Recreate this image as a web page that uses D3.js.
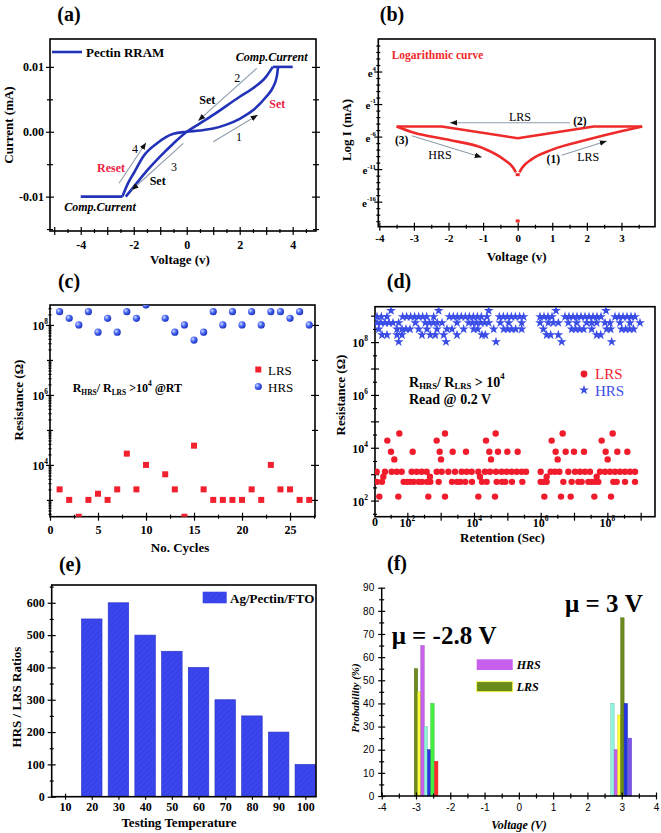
<!DOCTYPE html>
<html><head><meta charset="utf-8">
<script src="https://cdn.jsdelivr.net/npm/d3@7/dist/d3.min.js"></script>
<style>html,body{margin:0;padding:0;background:#fff;}svg{display:block;}</style>
</head><body>
<svg id="fig" width="661" height="833"></svg>
<script>
// ================= DATA =================
// (a) I-V hysteresis loop (Voltage V, Current mA)
const aCompNegV=[-4,-2.43];
const aCompPosV=[3.25,4];
const aLoopBV=[-2.43,-2.2,-2.0,-1.64,-1.13,-0.5,0,0.5,1.0,1.5,2.0,2.5,3.0,3.25,3.4,3.45];
const aLoopBI=[-0.01,-0.0078,-0.0064,-0.0038,-0.0018,-0.0003,0,0.0002,0.0005,0.0011,0.002,0.0033,0.0054,0.0068,0.0085,0.01];
const aLoopAV=[-2.3,-2.0,-1.5,-1.0,-0.5,0,0.5,1.0,2.0,2.5,3.0,3.25];
const aLoopAI=[-0.01,-0.0085,-0.006,-0.0038,-0.0018,0,0.0013,0.0026,0.0054,0.0067,0.0085,0.01];
const aXTicks=[-4,-2,0,2,4];
const aYTicks=[-0.01,0,0.01];
// (b) log curve (Voltage, ln I)
const bUpperV=[-3.5,-2.2,0,2.2,3.6];
const bUpperLn=[-4.46,-4.46,-6.25,-4.46,-4.46];
const bLeftV=[-3.5,-3.02,-2.0,-1.0,-0.41,-0.12,-0.05];
const bLeftLn=[-4.46,-5.38,-6.5,-7.78,-9.48,-10.86,-11.5];
const bRightV=[0.05,0.12,0.4,1.0,2.0,2.96,3.6];
const bRightLn=[-11.5,-10.86,-9.5,-8.0,-6.5,-5.23,-4.46];
const bDotV=[0,0];
const bDotLn=[-11.85,-18.97];
const bXTicks=[-4,-3,-2,-1,0,1,2,3];
const bYTicks=[4,-1,-6,-11,-16];
// (c) endurance
const cCycles=[1,2,3,4,5,6,7,8,9,10,11,12,13,14,15,16,17,18,19,20,21,22,23,24,25,26,27];
const cHRS=[2.4e8,1.55e8,1e8,2.4e8,6.2e7,1.55e8,6.2e7,2.4e8,1.55e8,3.7e8,null,1.55e8,6.2e7,1e8,3.7e7,6.2e7,2.4e8,1e8,2.4e8,1e8,2.4e8,1e8,2.4e8,2.4e8,1.55e8,2.4e8,1e8];
const cLRS=[2000,1000,330,1000,1500,1000,2000,21000,2000,10000,null,5400,2000,330,35500,2000,1000,1000,1000,1000,2000,1000,10000,2000,2000,1000,1000];
const cXTicks=[0,5,10,15,20,25];
const cYTicks=[4,6,8];
// (d) retention: log10(R) levels and log10(t) positions
const dHrsLevels=[9.19,8.96,8.73,8.49,8.27,8.01];
const dHrsTimes=[
 [1.51,2.94,4.44,6.46,7.96],
 [1.09,1.22,1.39,1.86,1.98,2.10,2.22,2.34,2.46,2.58,2.79,3.26,3.38,3.50,3.62,3.74,3.86,3.98,4.10,4.22,4.39,4.76,4.88,5.00,5.12,5.24,5.37,5.49,5.98,6.10,6.22,6.34,6.73,6.85,6.97,7.09,7.21,7.33,7.45,7.57,7.69,7.81,8.23,8.35,8.47,8.59,8.71,8.83],
 [1.09,1.21,1.33,1.45,1.57,1.74,2.24,2.54,2.66,2.78,2.90,3.04,3.49,3.84,3.96,4.08,4.20,4.32,4.44,4.79,5.04,5.43,5.98,6.23,6.38,6.53,6.83,7.08,7.38,7.53,7.68,7.93,8.08,8.38,8.68,8.98],
 [1.14,1.69,1.84,1.96,2.08,2.34,2.59,2.89,3.19,3.34,3.69,3.99,4.11,4.59,4.89,5.01,5.13,5.25,5.43,6.08,6.93,7.05,7.17,7.29,7.53,7.98,8.10,8.43,8.55,8.67,8.79],
 [1.24,1.39,1.69,1.84,2.44,2.69,2.84,3.09,3.49,4.24,4.34,6.18,6.30,6.53,7.68,7.80],
 [1.74,3.16,4.66,6.63,8.13]
];
const dLrsLevels=[4.54,4.27,3.85,3.56,3.09,2.90,2.71,2.15];
const dLrsTimes=[
 [1.76,3.13,4.65,6.66,8.16],
 [1.40,2.88,4.36,6.33,7.83],
 [1.51,2.16,2.97,3.36,3.76,4.46,4.72,5.00,5.31,6.45,6.75,7.00,7.30,7.95,8.30,8.60],
 [1.61,3.01,4.51,6.51,8.01],
 [1.08,1.33,1.53,1.68,1.83,2.13,2.28,2.43,2.58,2.88,3.03,3.23,3.43,3.63,3.78,3.93,4.13,4.33,4.48,4.66,4.83,4.98,5.13,5.28,5.43,5.56,6.00,6.30,6.43,6.56,6.83,7.03,7.18,7.33,7.48,7.78,7.93,8.08,8.23,8.38,8.53,8.68,8.83],
 [1.28,2.68,4.18,6.18,7.68],
 [1.09,1.24,1.89,1.99,2.09,2.19,2.34,2.44,2.59,2.69,2.94,3.34,3.49,3.59,3.74,3.94,4.24,4.38,4.68,4.84,4.94,5.14,5.45,6.00,6.08,6.18,6.68,6.93,7.13,7.23,7.43,7.53,7.63,7.73,8.18,8.28,8.53,8.83],
 [1.16,1.73,2.63,3.13,4.13,4.63,6.11,6.61,6.90,7.61,8.11]
];
const dXTicks=[2,4,6,8];
const dYTicks=[2,4,6,8];
// (e) ratio vs temperature
const eTemps=[10,20,30,40,50,60,70,80,90,100];
const eRatios=[0,550,600,500,450,400,300,250,200,100];
const eYTicks=[0,100,200,300,400,500,600];
// (f) set/reset voltage distribution
const fVolts=[-3.0,-2.9,-2.81,-2.71,-2.61,-2.52,-2.41,2.73,2.83,2.93,3.02,3.12,3.24];
const fProbs=[55,45,65,30,20,40,15,40,20,35,77,40,25];
const fColors=["#6b8a1c","#ffff3a","#c860ee","#90f4de","#2434e0","#44ee44","#ff2a2a","#90f4de","#c860ee","#ffff3a","#6b8a1c","#2434e0","#7a52ee"];
const fXTicks=[-4,-3,-2,-1,0,1,2,3,4];
const fYTicks=[0,10,20,30,40,50,60,70,80,90];

// ================= HELPERS =================
const SERIF='"Liberation Serif","Times New Roman",serif';
const SANS='"Liberation Sans",Arial,sans-serif';
const hy=f=>(v=>f(v).replace("\u2212","-"));
const svg=d3.select("#fig");
svg.append("rect").attr("width",661).attr("height",833).attr("fill","#fff");
const defs=svg.append("defs");
defs.append("marker").attr("id","ah").attr("viewBox","0 0 10 10").attr("refX",10).attr("refY",5)
  .attr("markerWidth",7).attr("markerHeight",7).attr("markerUnits","userSpaceOnUse").attr("orient","auto")
  .append("path").attr("d","M0,1 L10,5 L0,9 Z").attr("fill","#111");
const rg=defs.append("radialGradient").attr("id","sph").attr("cx","35%").attr("cy","35%").attr("r","65%");
rg.append("stop").attr("offset","0%").attr("stop-color","#d0dcff");
rg.append("stop").attr("offset","50%").attr("stop-color","#4a68f4");
rg.append("stop").attr("offset","100%").attr("stop-color","#1e34c4");
const pat=defs.append("pattern").attr("id","hatch").attr("patternUnits","userSpaceOnUse").attr("width",4).attr("height",4).attr("patternTransform","rotate(45)");
pat.append("rect").attr("width",4).attr("height",4).attr("fill","#3b46f0");
pat.append("line").attr("x1",0).attr("y1",0).attr("x2",0).attr("y2",4).attr("stroke","#2f39d0").attr("stroke-width",1.2);

function clip(id,x0,x1,y0,y1){defs.append("clipPath").attr("id",id).append("rect").attr("x",x0).attr("y",y0).attr("width",x1-x0).attr("height",y1-y0);}
function frame(x0,x1,y0,y1){svg.append("rect").attr("x",x0).attr("y",y0).attr("width",x1-x0).attr("height",y1-y0).attr("fill","none").attr("stroke","#000").attr("stroke-width",1.6);}
function txt(x,y,s,o={}){
  return svg.append("text").attr("x",x).attr("y",y).attr("text-anchor",o.anchor||"start")
   .attr("dominant-baseline",o.base||"central").attr("font-family",o.family||SERIF)
   .attr("font-size",o.size||12).attr("font-weight",o.weight||"bold").attr("font-style",o.style||"normal")
   .attr("fill",o.fill||"#000").text(s);
}
function rich(x,y,parts,o={}){
  const size=o.size||12; const t=txt(x,y,"",o); let cur=0;
  parts.forEach(p=>{
    const off=p.sub?size*0.32:p.sup?-size*0.42:0;
    t.append("tspan").attr("dy",off-cur).attr("font-size",(p.sub||p.sup)?size*0.62:size).text(p.t);
    cur=off;
  });
  return t;
}
function vlabel(x,y,s,o={}){return txt(0,0,s,Object.assign({anchor:"middle"},o)).attr("transform",`translate(${x},${y}) rotate(-90)`);}
function ticks(kind,scale,vals,pos,len,fmt,pad,fs,family,weight){
  const gen=kind==="bottom"?d3.axisBottom(scale):kind==="left"?d3.axisLeft(scale):kind==="right"?d3.axisRight(scale):d3.axisTop(scale);
  gen.tickValues(vals).tickSize(len).tickPadding(pad||3).tickFormat(fmt?hy(fmt):(()=>""));
  const g=svg.append("g").attr("transform",(kind==="bottom"||kind==="top")?`translate(0,${pos})`:`translate(${pos},0)`).call(gen);
  g.select(".domain").remove();
  g.selectAll(".tick line").attr("stroke","#000").attr("stroke-width",1.2);
  if(kind==="bottom")g.selectAll(".tick line").attr("y1",-len);
  if(kind==="top")g.selectAll(".tick line").attr("y1",len);
  if(kind==="left")g.selectAll(".tick line").attr("x1",len);
  if(kind==="right")g.selectAll(".tick line").attr("x1",-len);
  g.attr("font-family",family||SERIF).attr("font-size",fs||12).attr("font-weight",weight||"bold");
  g.selectAll("text").attr("fill","#000");
  return g;
}
function arrow(x1,y1,x2,y2){svg.append("line").attr("x1",x1).attr("y1",y1).attr("x2",x2).attr("y2",y2).attr("stroke","#8d9cab").attr("stroke-width",1.1).attr("marker-end","url(#ah)");}
const zip=(a,b)=>a.map((v,i)=>[v,b[i]]);

// ================= PANEL (a) =================
{
const x=d3.scaleLinear([-5.16,4.88],[50,316]);
const y=d3.scaleLinear([-0.0153,0.0143],[231,39]);
ticks("bottom",x,aXTicks,231,4,d3.format("d"),5,12);
ticks("bottom",x,[-5,-3,-1,1,3],231,4);
ticks("bottom",x,d3.range(-4.5,4.6,1),231,2);
ticks("left",y,aYTicks,50,4,d3.format(".2f"),2,12);
ticks("left",y,[-0.015,-0.005,0.005],50,3);
ticks("right",y,aYTicks,316,4);
ticks("right",y,[-0.015,-0.005,0.005],316,3);
frame(50,316,39,231);
const line=d3.line().x(d=>x(d[0])).y(d=>y(d[1]));
const col="#2233b8";
const g=svg.append("g").attr("fill","none").attr("stroke",col).attr("stroke-width",2.6);
g.append("path").attr("d",line(aCompNegV.map(v=>[v,-0.01])));
g.append("path").attr("d",line(aCompPosV.map(v=>[v,0.01])));
g.append("path").attr("d",line.curve(d3.curveMonotoneX)(zip(aLoopBV,aLoopBI)));
g.append("path").attr("d",line.curve(d3.curveMonotoneX)(zip(aLoopAV,aLoopAI)));
svg.append("line").attr("x1",52).attr("x2",82).attr("y1",52).attr("y2",52).attr("stroke",col).attr("stroke-width",2.6);
txt(86,52,"Pectin RRAM",{size:13});
txt(271.7,57.3,"Comp.Current",{anchor:"middle",size:12,style:"italic"});
txt(100,207.3,"Comp.Current",{anchor:"middle",size:12,style:"italic"});
arrow(256.7,68.3,198.3,120.7);
arrow(213.3,141.7,257.7,115);
arrow(119,183.3,146,142.7);
arrow(183.3,143.3,131.7,190);
txt(237.3,78.3,"2",{anchor:"middle",size:12,weight:"normal"});
txt(207.3,100,"Set",{anchor:"middle",size:12});
txt(277.3,104.3,"Set",{anchor:"middle",size:12,fill:"#ee2244"});
txt(239,137.3,"1",{anchor:"middle",size:12,weight:"normal"});
txt(135,148.7,"4",{anchor:"middle",size:12,weight:"normal"});
txt(111,167.7,"Reset",{anchor:"middle",size:12,fill:"#ee2244"});
txt(174,166.7,"3",{anchor:"middle",size:12,weight:"normal"});
txt(157.7,181,"Set",{anchor:"middle",size:12});
vlabel(8,125,"Current (mA)",{size:13});
txt(180,259,"Voltage (v)",{anchor:"middle",size:13});
txt(69,14,"(a)",{anchor:"middle",size:20});
}
// ================= PANEL (b) =================
{
const x=d3.scaleLinear([-4.03,3.97],[378.3,655]);
const y=d3.scaleLinear([-19.85,9.0],[226.7,39]);
ticks("bottom",x,bXTicks,226.7,4,d3.format("d"),4,11);
ticks("bottom",x,d3.range(-3.5,3.6,1),226.7,2);
ticks("left",y,bYTicks,378.3,4);
ticks("left",y,d3.range(-19,9,1).filter(v=>!bYTicks.includes(v)),378.3,2);
frame(378.3,655,39,226.7);
bYTicks.forEach(v=>rich(376,y(v)+1,[{t:"e"},{t:String(v),sup:true}],{anchor:"end",size:11}));
const line=d3.line().x(d=>x(d[0])).y(d=>y(d[1]));
const col="#ee2a2a";
const g=svg.append("g").attr("fill","none").attr("stroke",col).attr("stroke-width",2.6).attr("stroke-linejoin","round");
g.append("path").attr("d",line(zip(bUpperV,bUpperLn)));
g.append("path").attr("d",line.curve(d3.curveMonotoneX)(zip(bLeftV,bLeftLn)));
g.append("path").attr("d",line.curve(d3.curveMonotoneX)(zip(bRightV,bRightLn)));
zip(bDotV,bDotLn).forEach(d=>svg.append("rect").attr("x",x(d[0])-2).attr("y",y(d[1])-1.5).attr("width",4).attr("height",3).attr("fill",col));
txt(391.7,55,"Logarithmic curve",{size:11.5,fill:"#ee2a2a"});
arrow(570,122.7,450,122.7);
txt(520,116.7,"LRS",{anchor:"middle",size:12,weight:"normal"});
txt(580,120.7,"(2)",{anchor:"middle",size:11.5});
txt(401.7,140,"(3)",{anchor:"middle",size:11.5});
arrow(411.7,135.7,481.7,157.3);
txt(440,155.3,"HRS",{anchor:"middle",size:12,weight:"normal"});
txt(553.3,159,"(1)",{anchor:"middle",size:11.5});
arrow(561.7,155.3,606.7,141);
txt(588.3,157.3,"LRS",{anchor:"middle",size:12,weight:"normal"});
vlabel(346.7,130,"Log I (mA)",{size:13});
txt(516.7,256,"Voltage (v)",{anchor:"middle",size:13});
txt(392,14,"(b)",{anchor:"middle",size:20});
}
// ================= PANEL (c) =================
{
const x=d3.scaleLinear([0,27.6],[50,315]);
const y=d3.scaleLog([10**2.52,10**8.57],[516.7,305]);
clip("clipC",50,315,305,516.7);
ticks("bottom",x,cXTicks,516.7,4,d3.format("d"),5,12);
ticks("bottom",x,[2.5,7.5,12.5,17.5,22.5,27.5],516.7,2);
const minors=[];for(let e=2;e<=8;e++)for(let m=2;m<=9;m++){const v=m*10**e;if(v>10**2.52&&v<10**8.57)minors.push(v);}
ticks("left",y,cYTicks.map(e=>10**e),50,4);
ticks("left",y,[1e3,1e5,1e7],50,3);
ticks("left",y,minors,50,1.5);
ticks("right",y,cYTicks.map(e=>10**e),315,4);
ticks("right",y,[1e3,1e5,1e7],315,3);
frame(50,315,305,516.7);
cYTicks.forEach(e=>rich(48,y(10**e)+1,[{t:"10"},{t:String(e),sup:true}],{anchor:"end",size:12}));
const g=svg.append("g").attr("clip-path","url(#clipC)");
cCycles.forEach((c,i)=>{
  if(cHRS[i]!=null)g.append("circle").attr("cx",x(c)).attr("cy",y(cHRS[i])).attr("r",3.6).attr("fill","url(#sph)");
  if(cLRS[i]!=null)g.append("rect").attr("x",x(c)-3).attr("y",y(cLRS[i])-3).attr("width",6).attr("height",6).attr("fill","#f0202e");
});
svg.append("rect").attr("x",255.3).attr("y",366.5).attr("width",6).attr("height",6).attr("fill","#f0202e");
svg.append("circle").attr("cx",258.3).attr("cy",386.5).attr("r",3.6).attr("fill","url(#sph)");
txt(268,370,"LRS",{size:13,weight:"normal"});
txt(268,387,"HRS",{size:13,weight:"normal"});
rich(72.7,388.3,[{t:"R"},{t:"HRS",sub:true},{t:"/ R"},{t:"LRS",sub:true},{t:" >10"},{t:"4",sup:true},{t:" @RT"}],{size:12});
vlabel(18,400,"Resistance (Ω)",{size:13});
txt(180,547,"No. Cycles",{anchor:"middle",size:13});
txt(69,281,"(c)",{anchor:"middle",size:20});
}
// ================= PANEL (d) =================
{
const x=d3.scaleLog([10**1.03,10**9.43],[375,655]);
const y=d3.scaleLog([10**1.39,10**9.34],[516.7,306.7]);
clip("clipD",375,655,306.7,516.7);
ticks("bottom",x,d3.range(2,10).map(e=>10**e),516.7,4);
ticks("bottom",x,d3.range(1.5,9.5,1).map(e=>10**e),516.7,2);
ticks("left",y,d3.range(2,10).map(e=>10**e),375,4);
ticks("left",y,d3.range(1.5,9.5,1).map(e=>10**e),375,2);
frame(375,655,306.7,516.7);
txt(375,522,"0",{anchor:"middle",size:12});
dXTicks.forEach(e=>rich(x(10**e),523,[{t:"10"},{t:String(e),sup:true}],{anchor:"middle",size:12}));
dYTicks.forEach(e=>rich(368,y(10**e)+1,[{t:"10"},{t:String(e),sup:true}],{anchor:"end",size:12}));
const g=svg.append("g").attr("clip-path","url(#clipD)");
dLrsLevels.forEach((lv,i)=>dLrsTimes[i].forEach(t=>g.append("circle").attr("cx",x(10**t)).attr("cy",y(10**lv)).attr("r",3.2).attr("fill","#f01c2c")));
const star=d3.symbol(d3.symbolStar).size(30);
dHrsLevels.forEach((lv,i)=>dHrsTimes[i].forEach(t=>g.append("path").attr("d",star()).attr("transform",`translate(${x(10**t)},${y(10**lv)})`).attr("fill","#3a4ee6")));
svg.append("circle").attr("cx",584).attr("cy",374).attr("r",3.4).attr("fill","#f01c2c");
svg.append("path").attr("d",star()).attr("transform","translate(584,390)").attr("fill","#3a4ee6");
txt(595,374,"LRS",{size:15,weight:"normal",fill:"#f01c2c"});
txt(595,391,"HRS",{size:15,weight:"normal",fill:"#3a4ee6"});
rich(409,382,[{t:"R"},{t:"HRS",sub:true},{t:"/ R"},{t:"LRS",sub:true},{t:" > 10"},{t:"4",sup:true}],{size:14});
txt(409,399.5,"Read @ 0.2 V",{size:14});
vlabel(340,395,"Resistance (Ω)",{size:13});
txt(502.5,537,"Retention (Sec)",{anchor:"middle",size:13});
txt(399,281,"(d)",{anchor:"middle",size:20});
}
// ================= PANEL (e) =================
{
const x=d3.scaleLinear([5,104],[51.7,316]);
const y=d3.scaleLinear([0,655],[796.7,585]);
ticks("bottom",x,eTemps,796.7,3,d3.format("d"),3,12);
ticks("left",y,eYTicks,51.7,4,d3.format("d"),3,12);
ticks("left",y,d3.range(50,651,100),51.7,2);
const bw=7.7;
svg.append("g").selectAll("rect").data(eTemps.map((t,i)=>[t,eRatios[i]]).filter(d=>d[1]>0)).join("rect")
  .attr("x",d=>x(d[0]-bw/2)).attr("width",d=>x(d[0]+bw/2)-x(d[0]-bw/2))
  .attr("y",d=>y(d[1])).attr("height",d=>y(0)-y(d[1]))
  .attr("fill","url(#hatch)").attr("stroke","#2a30c0").attr("stroke-width",0.6);
frame(51.7,316,585,796.7);
svg.append("rect").attr("x",202.7).attr("y",591.7).attr("width",24).attr("height",11.6).attr("fill","url(#hatch)");
txt(230,598,"Ag/Pectin/FTO",{size:13});
vlabel(16,697,"HRS / LRS Ratios",{size:13});
txt(179,822.5,"Testing Temperature",{anchor:"middle",size:13});
txt(70,564,"(e)",{anchor:"middle",size:20});
}
// ================= PANEL (f) =================
{
const x=d3.scaleLinear([-4,4],[381.7,656]);
const y=d3.scaleLinear([0,90],[796,587.7]);
const bw=0.1;
svg.append("g").selectAll("rect").data(fVolts.map((v,i)=>[v,fProbs[i],fColors[i]])).join("rect")
  .attr("x",d=>x(d[0]-bw/2)).attr("width",d=>x(d[0]+bw/2)-x(d[0]-bw/2))
  .attr("y",d=>y(d[1])).attr("height",d=>y(0)-y(d[1]))
  .attr("fill",d=>d[2]).attr("stroke",d=>d3.color(d[2]).darker(0.6)).attr("stroke-width",0.5);
svg.append("line").attr("x1",381.7).attr("x2",656).attr("y1",796).attr("y2",796).attr("stroke","#000").attr("stroke-width",1.5);
svg.append("line").attr("x1",381.7).attr("x2",381.7).attr("y1",796).attr("y2",587.7).attr("stroke","#000").attr("stroke-width",1.5);
ticks("bottom",x,fXTicks,796,3.5,d3.format("d"),4,10,SANS,"normal");
ticks("bottom",x,d3.range(-3.5,3.6,1),796,2.5);
ticks("left",y,fYTicks,381.7,3.5,d3.format("d"),4,10,SANS,"normal");
ticks("left",y,d3.range(5,90,10),381.7,2.5);
svg.append("rect").attr("x",476.7).attr("y",659.3).attr("width",36).attr("height",10.7).attr("fill","#c860ee");
svg.append("rect").attr("x",476.7).attr("y",681.7).attr("width",36).attr("height",10).attr("fill","#6b8a1c").attr("stroke","#ffff3a").attr("stroke-width",0.8);
txt(516.7,665,"HRS",{size:12,style:"italic"});
txt(516.7,687,"LRS",{size:12,style:"italic"});
txt(565,603,"μ = 3 V",{size:25});
txt(391.7,635,"μ = -2.8 V",{size:25});
vlabel(355,698,"Probability (%)",{size:11,style:"italic"});
txt(519,825,"Voltage (V)",{anchor:"middle",size:12,style:"italic"});
txt(397,563,"(f)",{anchor:"middle",size:20});
}
</script>
</body></html>
